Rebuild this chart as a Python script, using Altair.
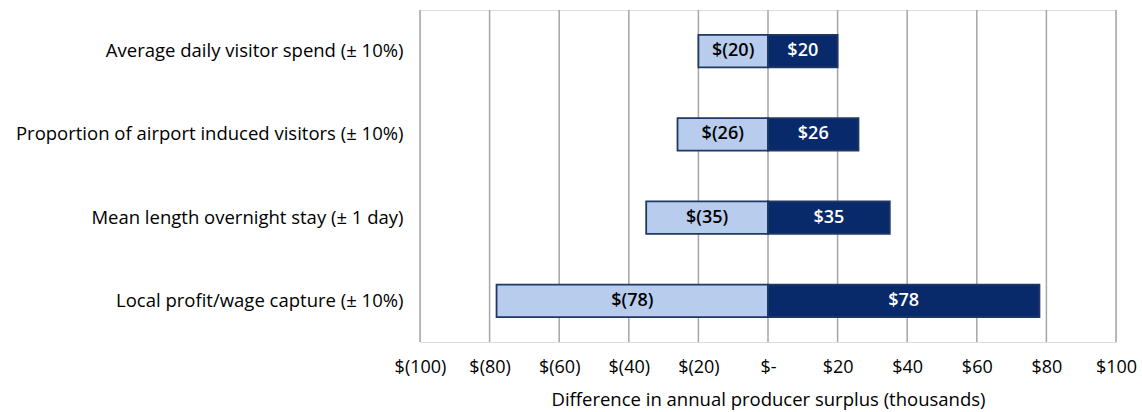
import altair as alt
import pandas as pd

categories = [
    "Average daily visitor spend (± 10%)",
    "Proportion of airport induced visitors (± 10%)",
    "Mean length overnight stay (± 1 day)",
    "Local profit/wage capture (± 10%)",
]
low_values = [-20, -26, -35, -78]
high_values = [20, 26, 35, 78]
tick_values = [-100, -80, -60, -40, -20, 0, 20, 40, 60, 80, 100]

rows = []
for c, lo, hi in zip(categories, low_values, high_values):
    rows.append({"cat": c, "v": lo, "side": "low", "label": "$(%d)" % abs(lo), "mid": lo / 2})
    rows.append({"cat": c, "v": hi, "side": "high", "label": "$%d" % hi, "mid": hi / 2})
df = pd.DataFrame(rows)

FONT = "Open Sans"

x_scale = alt.Scale(domain=[-100, 100], nice=False)
y_enc = alt.Y("cat:N", sort=categories, scale=alt.Scale(paddingInner=0.61, paddingOuter=0.3),
              axis=alt.Axis(title=None, domain=False, ticks=False, grid=False,
                            labelFont=FONT, labelFontSize=18.5, labelFontWeight=500, labelColor="black",
                            labelPadding=17, labelLimit=500))

grid = alt.Chart(pd.DataFrame({"t": tick_values})).mark_rule(color="#a6a6a6", strokeWidth=1.5).encode(
    x=alt.X("t:Q", scale=x_scale,
            axis=alt.Axis(values=tick_values, grid=False, domain=False, ticks=False,
                          labelOverlap=False, labelBound=False, labelFlush=False,
                          labelExpr="datum.value < 0 ? '$(' + abs(datum.value) + ')' : (datum.value == 0 ? '$-' : '$' + datum.value)",
                          labelFont=FONT, labelFontSize=18, labelFontWeight=500, labelColor="black", labelPadding=16,
                          title="Difference in annual producer surplus (thousands)",
                          titleFont=FONT, titleFontSize=18.5, titleFontWeight=500,
                          titleColor="black", titlePadding=14))
)

bars = alt.Chart(df).mark_bar(stroke="#1f3864", strokeWidth=1.8).encode(
    x=alt.X("v:Q", scale=x_scale),
    x2=alt.datum(0),
    y=y_enc,
    color=alt.Color("side:N", scale=alt.Scale(domain=["low", "high"], range=["#b8cdee", "#08296a"]), legend=None),
)

texts = alt.Chart(df).mark_text(font=FONT, fontSize=18, fontWeight=600).encode(
    x=alt.X("mid:Q", scale=x_scale),
    y=alt.Y("cat:N", sort=categories),
    text="label:N",
    color=alt.Color("side:N", scale=alt.Scale(domain=["low", "high"], range=["black", "white"]), legend=None),
)

chart = alt.layer(grid, bars, texts).resolve_scale(color="independent").properties(
    width=696, height=332,
    autosize=alt.AutoSizeParams(type="none"),
    padding={"left": 420, "top": 10, "right": 26, "bottom": 70},
).configure_view(stroke=None).configure(background="white")

chart.save("out.html", embed_options={"renderer": "svg", "actions": False})
